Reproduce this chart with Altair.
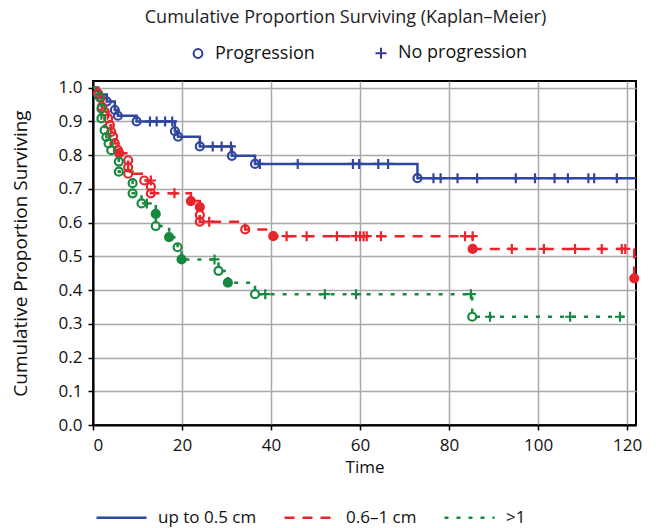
import altair as alt
import pandas as pd

FONT = "Open Sans"

groups = ["up to 0.5 cm", "0.6–1 cm", ">1"]
colors = ["#2f479e", "#e8252c", "#17893f"]
dash_styles = [[1, 0], [10, 8], [4, 8]]
statuses = ["Progression", "No progression"]

# Group "up to 0.5 cm": progression times, survival after each, censored times
blue_t = [1.2, 3.1, 4.9, 5.6, 9.8, 18.4, 19.1, 24.0, 31.2, 36.4, 72.9]
blue_s = [0.980, 0.959, 0.934, 0.917, 0.900, 0.871, 0.855, 0.826, 0.798, 0.774, 0.732]
blue_cens = [12.8, 14.3, 16.2, 17.8, 26.9, 28.9, 31.0, 37.5, 46.0, 58.4, 59.8, 64.1,
             66.3, 76.5, 78.1, 81.9, 86.3, 95.0, 99.3, 103.7, 106.7, 111.3, 112.6, 117.7]
blue_solid = []
blue_end = 122.0

# Group "0.6–1 cm"
red_t = [1.1, 1.7, 2.0, 2.6, 3.4, 3.8, 4.1, 4.5, 4.9, 5.6, 5.9, 7.9, 7.9, 7.9, 11.5,
         13.0, 13.0, 22.0, 24.0, 24.0, 24.0, 34.2, 40.5, 85.3, 121.6]
red_s = [0.983, 0.970, 0.944, 0.929, 0.909, 0.889, 0.869, 0.855, 0.835, 0.815, 0.806,
         0.785, 0.764, 0.745, 0.725, 0.707, 0.687, 0.664, 0.646, 0.623, 0.603, 0.580,
         0.560, 0.522, 0.435]
red_cens = [13.0, 18.3, 26.1, 43.5, 48.0, 54.8, 59.1, 60.0, 60.8, 61.5, 64.7, 83.6,
            85.3, 94.1, 101.3, 108.3, 114.3, 118.8, 119.6]
red_solid = [5.9, 22.0, 24.0, 40.5, 85.3, 121.6]
red_end = 121.6

# Group ">1"
green_t = [1.5, 1.9, 1.9, 2.6, 3.0, 3.5, 4.1, 5.8, 5.8, 8.9, 8.9, 10.9, 14.1, 14.1,
           17.1, 19.0, 19.9, 28.2, 30.3, 36.4, 85.2]
green_s = [0.973, 0.938, 0.909, 0.874, 0.854, 0.835, 0.815, 0.781, 0.751, 0.717, 0.687,
           0.657, 0.626, 0.590, 0.557, 0.527, 0.491, 0.457, 0.422, 0.388, 0.321]
green_cens = [12.1, 27.3, 38.7, 52.1, 59.1, 84.9, 89.2, 107.2, 118.4]
green_solid = [14.1, 17.1, 19.9, 30.3]
green_end = 120.2

x_ticks = [0, 20, 40, 60, 80, 100, 120]
y_ticks = [round(0.1 * i, 1) for i in range(11)]

series = [
    (groups[0], blue_t, blue_s, blue_cens, blue_solid, blue_end),
    (groups[1], red_t, red_s, red_cens, red_solid, red_end),
    (groups[2], green_t, green_s, green_cens, green_solid, green_end),
]

line_rows, point_rows, solid_rows = [], [], []
for g, ts, ss, cens, solid, end in series:
    k = 0
    line_rows.append({"group": g, "time": 0.0, "surv": 1.0, "k": k})
    seen = set()
    for t, s in zip(ts, ss):
        k += 1
        line_rows.append({"group": g, "time": t, "surv": s, "k": k})
        point_rows.append({"group": g, "time": t, "surv": s, "status": statuses[0]})
        if t in solid and t not in seen:
            solid_rows.append({"group": g, "time": t, "surv": s})
            seen.add(t)
    line_rows.append({"group": g, "time": end, "surv": ss[-1], "k": k + 1})
    # censored cases sit on the curve level just before their time
    for c in cens:
        level = 1.0
        for t, s in zip(ts, ss):
            if t < c:
                level = s
        point_rows.append({"group": g, "time": c, "surv": level, "status": statuses[1]})

lines_df = pd.DataFrame(line_rows)
points_df = pd.DataFrame(point_rows)
solid_df = pd.DataFrame(solid_rows)

x_enc = alt.X("time:Q", scale=alt.Scale(domain=[0, 122], nice=False),
              axis=alt.Axis(values=x_ticks, title="Time", labelPadding=7, titlePadding=6))
y_enc = alt.Y("surv:Q", scale=alt.Scale(domain=[0, 1.02], nice=False),
              axis=alt.Axis(values=y_ticks, format=".1f", labelOverlap=False,
                            title="Cumulative Proportion Surviving",
                            titleFontSize=19, labelPadding=6, titlePadding=28))

group_legend = alt.Legend(
    orient="none", legendX=2, legendY=410, direction="horizontal", title=None,
    symbolType="stroke", symbolSize=2500, symbolStrokeWidth=2.5,
    labelFontSize=17, labelFont=FONT, labelColor="#111", labelOffset=10, columnPadding=22,
)
color_scale = alt.Scale(domain=groups, range=colors)

# open ring and thin plus, both drawn in the unit box
ring = "M0.8,0A0.8,0.8,0,1,1,-0.8,0A0.8,0.8,0,1,1,0.8,0Z"
plus = "M-1,0H1M0,-1V1"

lines = alt.Chart(lines_df).mark_line(interpolate="step-after", strokeWidth=2.5).encode(
    x=x_enc, y=y_enc,
    color=alt.Color("group:N", scale=color_scale, legend=group_legend),
    strokeDash=alt.StrokeDash("group:N", scale=alt.Scale(domain=groups, range=dash_styles),
                              legend=group_legend),
    order="k:Q",
)

points = alt.Chart(points_df).mark_point(filled=False, strokeWidth=2.2, opacity=1, size=100).encode(
    x=x_enc, y=y_enc,
    color=alt.Color("group:N", scale=color_scale, legend=None),
    shape=alt.Shape("status:N",
                    scale=alt.Scale(domain=statuses, range=[ring, plus]),
                    legend=alt.Legend(orient="none", legendX=96, legendY=-37,
                                      direction="horizontal", title=None,
                                      symbolSize=120, symbolStrokeWidth=2,
                                      symbolStrokeColor="#2e3a96", symbolFillColor="transparent",
                                      labelFontSize=18, labelFont=FONT, labelColor="#111",
                                      labelOffset=8, columnPadding=56)),
)

solid = alt.Chart(solid_df).mark_circle(size=60, opacity=1).encode(
    x=x_enc, y=y_enc,
    color=alt.Color("group:N", scale=color_scale, legend=None),
)

chart = (
    alt.layer(lines, points, solid)
    .properties(
        width=543, height=344,
        autosize=alt.AutoSizeParams(type="none"),
        padding={"left": 93, "top": 81, "right": 20, "bottom": 103},
        title=alt.TitleParams(
            "Cumulative Proportion Surviving (Kaplan–Meier)",
            font=FONT, fontSize=18, fontWeight="normal", color="#222",
            anchor="middle", frame="group", dx=-19, offset=17,
        ),
    )
    .configure_view(stroke="black", strokeWidth=2)
    .configure_axis(
        labelFont=FONT, labelFontSize=17, labelColor="#111",
        titleFont=FONT, titleFontSize=17, titleFontWeight="normal", titleColor="#111",
        domainColor="black", domainWidth=2, tickColor="black", tickWidth=1.5, tickSize=5,
        gridColor="#a9a9a9", gridWidth=1.5,
    )
)

chart.save("out.html", embed_options={"renderer": "svg", "actions": False})
